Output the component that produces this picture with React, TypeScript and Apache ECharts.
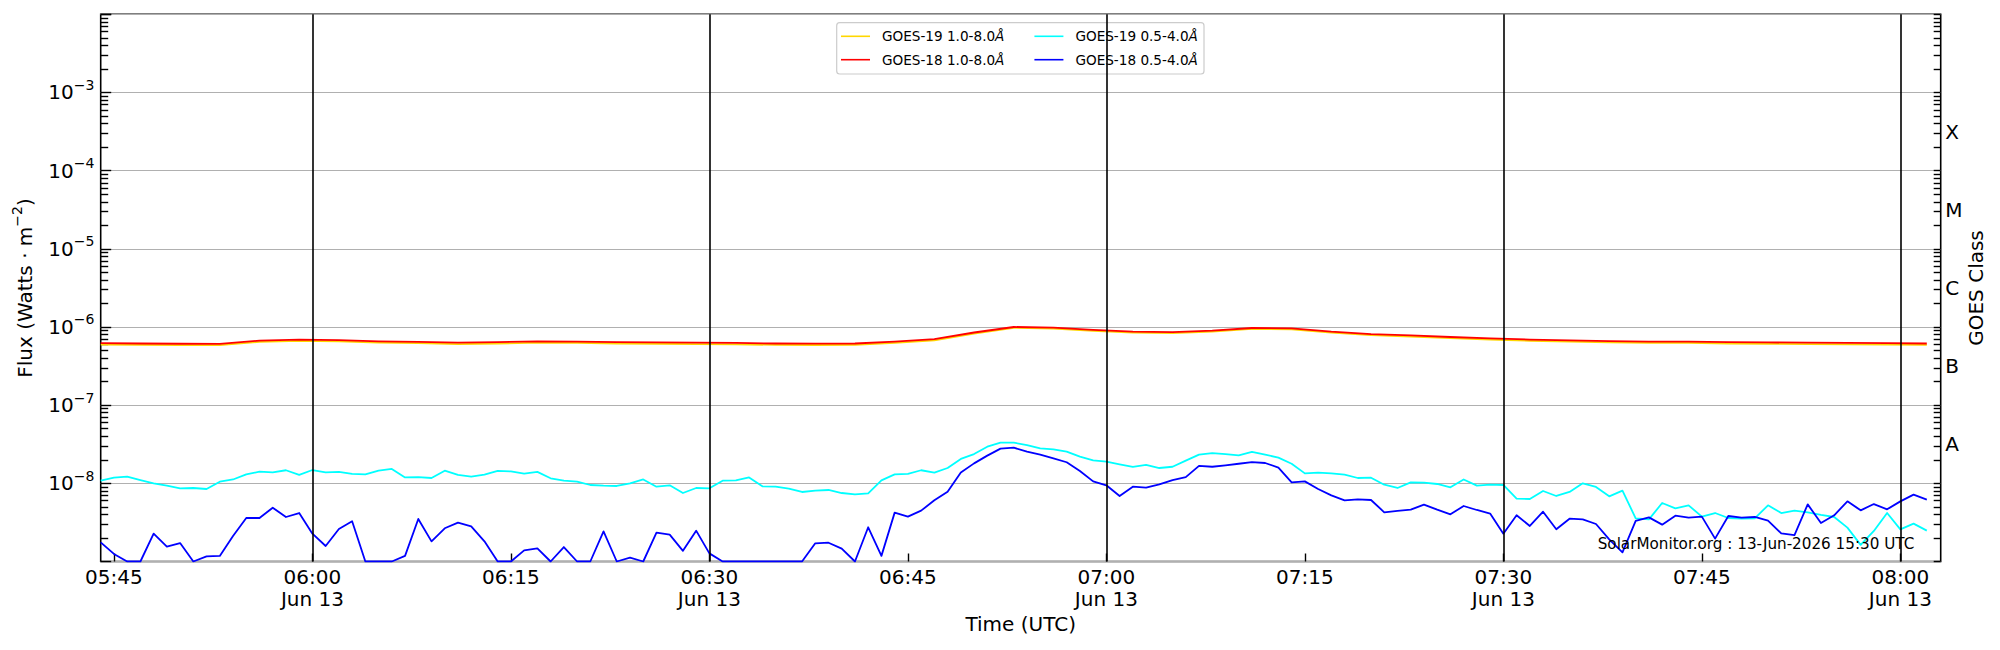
import React, { useEffect, useRef } from "react";
import * as echarts from "echarts";

// ---------------- data ----------------
const START_UTC = Date.UTC(2026, 5, 13, 5, 44, 0);
const AXIS_MIN = Date.UTC(2026, 5, 13, 5, 44, 0);
const AXIS_MAX = Date.UTC(2026, 5, 13, 8, 3, 3);
const SHORT_CADENCE_MIN = 1; // 0.5-4.0 Å channels, one reading per minute
const LONG_CADENCE_MIN = 3; // 1.0-8.0 Å channels, read every 3 minutes
const DATE_LABEL = "Jun 13";
const TICK_LABELS = ["05:45", "06:00", "06:15", "06:30", "06:45", "07:00", "07:15", "07:30", "07:45", "08:00"];
const DAY_LINES = ["06:00", "06:30", "07:00", "07:30", "08:00"];
const Y_MIN = 1e-9;
const Y_MAX = 1e-2;
const CLASS_LABELS = ["A", "B", "C", "M", "X"];
const CLASS_LOG_CENTERS = [-7.5, -6.5, -5.5, -4.5, -3.5];
const DECADES = [-9, -8, -7, -6, -5, -4, -3, -2];
const MINOR_MULTIPLIERS = [2, 3, 4, 5, 6, 7, 8, 9];
const WATERMARK = "SolarMonitor.org : 13-Jun-2026 15:30 UTC";

const NAME_G19_LONG = "GOES-19 1.0-8.0";
const NAME_G18_LONG = "GOES-18 1.0-8.0";
const NAME_G19_SHORT = "GOES-19 0.5-4.0";
const NAME_G18_SHORT = "GOES-18 0.5-4.0";

const g19Long = [
  5.95e-7, 5.9e-7, 5.85e-7, 5.85e-7, 6.45e-7, 6.65e-7, 6.55e-7, 6.3e-7, 6.2e-7, 6.05e-7,
  6.15e-7, 6.3e-7, 6.25e-7, 6.15e-7, 6.1e-7, 6.05e-7, 6.0e-7, 5.9e-7, 5.88e-7, 5.92e-7,
  6.25e-7, 6.75e-7, 8.25e-7, 9.75e-7, 9.55e-7, 8.95e-7, 8.45e-7, 8.35e-7, 8.75e-7, 9.45e-7,
  9.35e-7, 8.45e-7, 7.85e-7, 7.55e-7, 7.2e-7, 6.9e-7, 6.65e-7, 6.5e-7, 6.35e-7, 6.25e-7,
  6.25e-7, 6.15e-7, 6.1e-7, 6.05e-7, 6.0e-7, 5.95e-7, 5.9e-7,
];

const g18Long = [
  6.2e-7, 6.15e-7, 6.1e-7, 6.08e-7, 6.7e-7, 6.9e-7, 6.8e-7, 6.55e-7, 6.45e-7, 6.3e-7,
  6.4e-7, 6.55e-7, 6.5e-7, 6.4e-7, 6.35e-7, 6.3e-7, 6.25e-7, 6.15e-7, 6.12e-7, 6.15e-7,
  6.5e-7, 7.0e-7, 8.5e-7, 1.0e-6, 9.8e-7, 9.2e-7, 8.7e-7, 8.6e-7, 9.0e-7, 9.7e-7,
  9.6e-7, 8.7e-7, 8.1e-7, 7.8e-7, 7.45e-7, 7.15e-7, 6.9e-7, 6.75e-7, 6.6e-7, 6.5e-7,
  6.5e-7, 6.4e-7, 6.35e-7, 6.3e-7, 6.25e-7, 6.2e-7, 6.15e-7,
];

const g19Short = [
  1.08e-8, 1.18e-8, 1.22e-8, 1.1e-8, 1.0e-8, 9.34e-9, 8.63e-9, 8.72e-9, 8.46e-9, 1.05e-8,
  1.12e-8, 1.3e-8, 1.41e-8, 1.38e-8, 1.47e-8, 1.28e-8, 1.48e-8, 1.38e-8, 1.4e-8, 1.32e-8,
  1.3e-8, 1.45e-8, 1.53e-8, 1.19e-8, 1.2e-8, 1.17e-8, 1.45e-8, 1.28e-8, 1.22e-8, 1.29e-8,
  1.44e-8, 1.42e-8, 1.33e-8, 1.4e-8, 1.16e-8, 1.08e-8, 1.05e-8, 9.52e-9, 9.34e-9, 9.25e-9,
  1.0e-8, 1.12e-8, 9.06e-9, 9.43e-9, 7.52e-9, 8.72e-9, 8.63e-9, 1.08e-8, 1.09e-8, 1.19e-8,
  9.15e-9, 9.06e-9, 8.55e-9, 7.75e-9, 8.06e-9, 8.22e-9, 7.52e-9, 7.23e-9, 7.45e-9, 1.09e-8,
  1.3e-8, 1.32e-8, 1.47e-8, 1.37e-8, 1.57e-8, 2.05e-8, 2.37e-8, 2.94e-8, 3.31e-8, 3.31e-8,
  3.09e-8, 2.8e-8, 2.72e-8, 2.54e-8, 2.19e-8, 1.97e-8, 1.89e-8, 1.75e-8, 1.62e-8, 1.72e-8,
  1.57e-8, 1.63e-8, 1.95e-8, 2.33e-8, 2.44e-8, 2.37e-8, 2.28e-8, 2.52e-8, 2.33e-8, 2.13e-8,
  1.78e-8, 1.34e-8, 1.37e-8, 1.34e-8, 1.29e-8, 1.17e-8, 1.18e-8, 9.61e-9, 8.72e-9, 1.03e-8,
  1.02e-8, 9.81e-9, 8.89e-9, 1.12e-8, 9.34e-9, 9.61e-9, 9.52e-9, 6.36e-9, 6.3e-9, 7.98e-9,
  6.89e-9, 7.75e-9, 1.0e-8, 8.98e-9, 6.82e-9, 8.06e-9, 3.57e-9, 3.46e-9, 5.6e-9, 4.79e-9,
  5.23e-9, 3.75e-9, 4.17e-9, 3.6e-9, 3.53e-9, 3.57e-9, 5.23e-9, 4.17e-9, 4.47e-9, 4.26e-9,
  3.94e-9, 3.71e-9, 2.71e-9, 1.63e-9, 2.46e-9, 4.17e-9, 2.58e-9, 3.05e-9, 2.48e-9,
];

const g18Short = [
  1.76e-9, 1.25e-9, 1.0e-9, 1.0e-9, 2.27e-9, 1.55e-9, 1.72e-9, 1.0e-9, 1.16e-9, 1.18e-9,
  2.12e-9, 3.6e-9, 3.6e-9, 4.88e-9, 3.71e-9, 4.17e-9, 2.27e-9, 1.58e-9, 2.61e-9, 3.27e-9,
  1.0e-9, 1.0e-9, 1.0e-9, 1.18e-9, 3.5e-9, 1.81e-9, 2.66e-9, 3.14e-9, 2.82e-9, 1.81e-9,
  1.0e-9, 1.0e-9, 1.39e-9, 1.47e-9, 1.0e-9, 1.53e-9, 1.0e-9, 1.0e-9, 2.43e-9, 1.0e-9,
  1.12e-9, 1.0e-9, 2.34e-9, 2.21e-9, 1.37e-9, 2.48e-9, 1.27e-9, 1.0e-9, 1.0e-9, 1.0e-9,
  1.0e-9, 1.0e-9, 1.0e-9, 1.0e-9, 1.71e-9, 1.74e-9, 1.46e-9, 1.0e-9, 2.74e-9, 1.18e-9,
  4.22e-9, 3.75e-9, 4.47e-9, 6.06e-9, 7.82e-9, 1.38e-8, 1.8e-8, 2.26e-8, 2.78e-8, 2.86e-8,
  2.54e-8, 2.33e-8, 2.09e-8, 1.86e-8, 1.44e-8, 1.06e-8, 9.43e-9, 6.89e-9, 9.06e-9, 8.8e-9,
  9.71e-9, 1.1e-8, 1.2e-8, 1.67e-8, 1.63e-8, 1.7e-8, 1.78e-8, 1.87e-8, 1.82e-8, 1.59e-8,
  1.03e-8, 1.06e-8, 8.46e-9, 7.02e-9, 6.06e-9, 6.24e-9, 6.12e-9, 4.26e-9, 4.43e-9, 4.6e-9,
  5.33e-9, 4.6e-9, 4.01e-9, 5.13e-9, 4.56e-9, 4.1e-9, 2.27e-9, 3.9e-9, 2.85e-9, 4.34e-9,
  2.58e-9, 3.53e-9, 3.46e-9, 3.02e-9, 1.92e-9, 1.31e-9, 3.3e-9, 3.67e-9, 2.96e-9, 3.86e-9,
  3.64e-9, 3.75e-9, 1.96e-9, 3.82e-9, 3.64e-9, 3.71e-9, 3.33e-9, 2.29e-9, 2.18e-9, 5.38e-9,
  3.11e-9, 3.9e-9, 5.88e-9, 4.51e-9, 5.43e-9, 4.65e-9, 5.88e-9, 7.16e-9, 6.18e-9,
];

// ---------------- helpers ----------------
const FONT = "DejaVu Sans";
const MIN = 60 * 1000;

function toPairs(values: number[], cadenceMin: number) {
  return values.map((v, i) => [START_UTC + i * cadenceMin * MIN, v]);
}

function hhmmToUtc(s: string) {
  const [h, m] = s.split(":").map(Number);
  return Date.UTC(2026, 5, 13, h, m, 0);
}

const TICK_TIMES = TICK_LABELS.map(hhmmToUtc);
const DAY_LINE_TIMES = DAY_LINES.map(hhmmToUtc);

const MAJOR_TICKS = DECADES.map((e) => Math.pow(10, e));
const MINOR_TICKS: number[] = [];
DECADES.slice(0, -1).forEach((e) => {
  MINOR_MULTIPLIERS.forEach((m) => MINOR_TICKS.push(m * Math.pow(10, e)));
});

function timeLabel(value: number) {
  const idx = TICK_TIMES.findIndex((t) => Math.abs(t - value) < 1000);
  if (idx < 0) return "";
  const s = TICK_LABELS[idx];
  return DAY_LINES.indexOf(s) >= 0 ? s + "\n" + DATE_LABEL : s;
}

const LEGEND_FONT_SIZE = 13.6;

function buildOption(): any {
  const lineCommon = {
    type: "line",
    xAxisIndex: 0,
    yAxisIndex: 0,
    showSymbol: false,
    symbol: "none",
    clip: true,
    emphasis: { disabled: true },
    silent: true,
  };
  const tickStyle = { color: "#000", width: 1.4 };
  const legendBase = {
    left: 841,
    orient: "horizontal",
    icon: "rect",
    itemWidth: 29,
    itemHeight: 1.6,
    itemGap: 30,
    padding: 0,
    selectedMode: false,
    formatter: (name: string) => "{g|}{n|" + name + "}{i|Å}",
    textStyle: {
      fontSize: LEGEND_FONT_SIZE,
      fontFamily: FONT,
      color: "#000",
      rich: {
        g: { width: 7, fontSize: LEGEND_FONT_SIZE, fontFamily: FONT },
        n: { fontSize: LEGEND_FONT_SIZE, fontFamily: FONT, color: "#000" },
        i: { fontSize: LEGEND_FONT_SIZE, fontFamily: FONT, color: "#000", fontStyle: "italic" },
      },
    },
  };
  return {
    animation: false,
    textStyle: { fontFamily: FONT },
    grid: {
      left: 100.7,
      top: 14.3,
      right: 59.3,
      bottom: 88.5,
      show: true,
      borderColor: "#000",
      borderWidth: 1.6,
      backgroundColor: "transparent",
      containLabel: false,
    },
    xAxis: [
      {
        type: "value",
        min: AXIS_MIN,
        max: AXIS_MAX,
        scale: true,
        axisLine: { show: false, onZero: false },
        axisTick: { show: true, inside: true, length: 8, lineStyle: tickStyle, customValues: TICK_TIMES },
        axisLabel: {
          customValues: TICK_TIMES,
          formatter: (v: number) => timeLabel(v),
          fontSize: 20,
          fontFamily: FONT,
          color: "#000",
          lineHeight: 22,
          margin: 4,
        },
        splitLine: { show: false },
      },
    ],
    yAxis: [
      {
        type: "log",
        logBase: 10,
        min: Y_MIN,
        max: Y_MAX,
        interval: 1,
        position: "left",
        axisLine: { show: false },
        axisTick: { show: true, inside: true, length: 10.5, lineStyle: tickStyle },
        splitLine: { show: true, lineStyle: { color: "#b0b0b0", width: 1.2 } },
        axisLabel: {
          margin: 6.4,
          color: "#000",
          formatter: (v: number) => {
            const e = Math.round(Math.log10(v));
            if (e <= -9 || e >= -2) return "";
            return "{b|10}{s|\u2212" + -e + "}";
          },
          rich: {
            b: { fontSize: 20, fontFamily: FONT, color: "#000", lineHeight: 20 },
            s: { fontSize: 14, fontFamily: FONT, color: "#000", padding: [0, 0, 15, 0] },
          },
        },
      },
      {
        type: "log",
        logBase: 10,
        min: Y_MIN,
        max: Y_MAX,
        position: "left",
        axisLine: { show: false },
        axisLabel: { show: false },
        splitLine: { show: false },
        axisTick: { show: true, inside: true, length: 7.5, lineStyle: tickStyle, customValues: MINOR_TICKS },
      },
      {
        type: "log",
        logBase: 10,
        min: Y_MIN,
        max: Y_MAX,
        position: "right",
        axisLine: { show: false },
        axisLabel: { show: false },
        splitLine: { show: false },
        axisTick: {
          show: true,
          inside: true,
          length: 7,
          lineStyle: tickStyle,
          customValues: MAJOR_TICKS.concat(MINOR_TICKS),
        },
      },
      {
        type: "value",
        min: Math.log10(Y_MIN),
        max: Math.log10(Y_MAX),
        interval: 0.5,
        position: "right",
        axisLine: { show: false },
        axisTick: { show: false },
        splitLine: { show: false },
        axisLabel: {
          margin: 4.5,
          fontSize: 20,
          fontFamily: FONT,
          color: "#000",
          padding: [6, 0, 0, 0],
          formatter: (v: number) => {
            const idx = CLASS_LOG_CENTERS.findIndex((c) => Math.abs(c - v) < 1e-6);
            return idx >= 0 ? CLASS_LABELS[idx] : "";
          },
        },
      },
    ],
    legend: [
      { ...legendBase, data: [NAME_G19_LONG, NAME_G19_SHORT], top: 29.3 },
      { ...legendBase, data: [NAME_G18_LONG, NAME_G18_SHORT], top: 52.7 },
    ],
    graphic: [
      {
        type: "rect",
        z: 3,
        silent: true,
        shape: { x: 836.7, y: 22.7, width: 367.3, height: 51.3, r: 3 },
        style: { fill: "rgba(255,255,255,0.8)", stroke: "#cccccc", lineWidth: 1.2 },
      },
      {
        type: "text",
        z: 5,
        silent: true,
        x: 1914.3,
        y: 544,
        style: {
          text: WATERMARK,
          fontSize: 15.2,
          fontFamily: FONT,
          fill: "#000",
          align: "right",
          verticalAlign: "middle",
          textAlign: "right",
          textVerticalAlign: "middle",
        },
      },
      {
        type: "text",
        z: 5,
        silent: true,
        x: 1020.7,
        y: 624,
        style: {
          text: "Time (UTC)",
          fontSize: 20,
          fontFamily: FONT,
          fill: "#000",
          align: "center",
          verticalAlign: "middle",
          textAlign: "center",
          textVerticalAlign: "middle",
        },
      },
      {
        type: "text",
        z: 5,
        silent: true,
        x: 24.5,
        y: 288,
        rotation: Math.PI / 2,
        style: {
          text: "{b|Flux (Watts · m}{s|\u22122}{b|)}",
          fontSize: 20,
          fontFamily: FONT,
          fill: "#000",
          align: "center",
          verticalAlign: "middle",
          textAlign: "center",
          textVerticalAlign: "middle",
          rich: {
            b: { fontSize: 20, fontFamily: FONT, fill: "#000", lineHeight: 20 },
            s: { fontSize: 14, fontFamily: FONT, fill: "#000", padding: [0, 0, 15, 0] },
          },
        },
      },
      {
        type: "text",
        z: 5,
        silent: true,
        x: 1976,
        y: 288,
        rotation: Math.PI / 2,
        style: {
          text: "GOES Class",
          fontSize: 20,
          fontFamily: FONT,
          fill: "#000",
          align: "center",
          verticalAlign: "middle",
          textAlign: "center",
          textVerticalAlign: "middle",
        },
      },
    ],
    series: [
      {
        ...lineCommon,
        name: NAME_G19_LONG,
        color: "#FFD700",
        itemStyle: { color: "#FFD700" },
        lineStyle: { color: "#FFD700", width: 1.8, join: "round" },
        data: toPairs(g19Long, LONG_CADENCE_MIN),
        markLine: {
          silent: true,
          symbol: ["none", "none"],
          label: { show: false },
          emphasis: { disabled: true },
          lineStyle: { color: "#000", width: 1.6, type: "solid" },
          data: DAY_LINE_TIMES.map((t) => ({ xAxis: t })),
        },
      },
      {
        ...lineCommon,
        name: NAME_G18_LONG,
        color: "#FF0000",
        itemStyle: { color: "#FF0000" },
        lineStyle: { color: "#FF0000", width: 1.8, join: "round" },
        data: toPairs(g18Long, LONG_CADENCE_MIN),
      },
      {
        ...lineCommon,
        name: NAME_G19_SHORT,
        color: "#00FFFF",
        itemStyle: { color: "#00FFFF" },
        lineStyle: { color: "#00FFFF", width: 1.8, join: "round" },
        data: toPairs(g19Short, SHORT_CADENCE_MIN),
      },
      {
        ...lineCommon,
        name: NAME_G18_SHORT,
        color: "#0000FF",
        itemStyle: { color: "#0000FF" },
        lineStyle: { color: "#0000FF", width: 1.8, join: "round" },
        data: toPairs(g18Short, SHORT_CADENCE_MIN),
      },
    ],
  };
}

export default function App() {
  const ref = useRef<HTMLDivElement>(null);
  useEffect(() => {
    const el = ref.current;
    if (!el) return;
    const chart = echarts.init(el, null, { renderer: "svg" });
    chart.setOption(buildOption());
    return () => chart.dispose();
  }, []);
  return (
    <div
      ref={ref}
      style={{ position: "fixed", left: 0, top: 0, width: 2000, height: 650, background: "#fff" }}
    />
  );
}
